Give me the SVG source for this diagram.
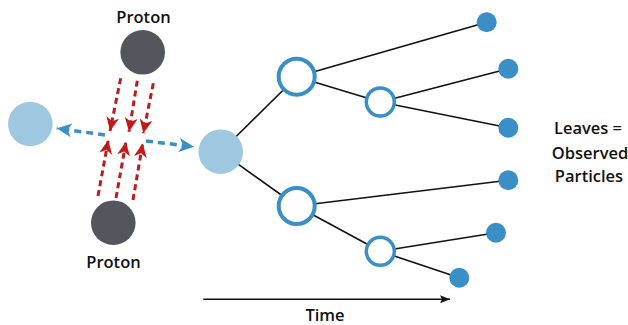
<svg xmlns="http://www.w3.org/2000/svg" width="628" height="325" viewBox="0 0 628 325">
<style>
  .lbl { font-family: "Open Sans", "Noto Sans", "Liberation Sans", sans-serif; font-weight: 600; font-size: 16.5px; fill: #111; text-anchor: middle; }
  .tree { stroke: #111; stroke-width: 1.6; fill: none; }
  .red { stroke: #c01a1a; stroke-width: 3; stroke-dasharray: 6 4; fill: none; }
  .blue { stroke: #3a8fc6; stroke-width: 3.5; stroke-dasharray: 7 5; fill: none; }
  .proton { fill: #53565d; }
  .light { fill: #9ec8e0; }
  .inner { fill: #fff; stroke: #3a8fc6; }
  .leaf { fill: #3a8fc6; }
</style>
<defs>
  <marker id="ahRed" markerUnits="userSpaceOnUse" markerWidth="14" markerHeight="13" viewBox="0 0 14 13" refX="14" refY="6.5" orient="auto">
    <path d="M0,0 L14,6.5 L0,13 L4,6.5 z" fill="#c01a1a"/>
  </marker>
  <marker id="ahBlue" markerUnits="userSpaceOnUse" markerWidth="15" markerHeight="14" viewBox="0 0 15 14" refX="15" refY="7" orient="auto">
    <path d="M0,0 L15,7 L0,14 L4,7 z" fill="#3a8fc6"/>
  </marker>
  <marker id="ahBlack" markerUnits="userSpaceOnUse" markerWidth="10" markerHeight="8" viewBox="0 0 10 8" refX="10" refY="4" orient="auto">
    <path d="M0,0 L10,4 L0,8 L2,4 z" fill="#111"/>
  </marker>
</defs>

<g id="connectors">
  <line class="tree" x1="220.7" y1="151.7" x2="296.7" y2="76.7"/>
  <line class="tree" x1="220.7" y1="151.7" x2="296.7" y2="206"/>
  <line class="tree" x1="296.7" y1="76.7" x2="486.7" y2="22.3"/>
  <line class="tree" x1="296.7" y1="76.7" x2="380.3" y2="102"/>
  <line class="tree" x1="380.3" y1="102" x2="508.3" y2="68.7"/>
  <line class="tree" x1="380.3" y1="102" x2="508.3" y2="127.7"/>
  <line class="tree" x1="296.7" y1="206" x2="508.3" y2="180.3"/>
  <line class="tree" x1="296.7" y1="206" x2="380.3" y2="251.3"/>
  <line class="tree" x1="380.3" y1="251.3" x2="496" y2="232.7"/>
  <line class="tree" x1="380.3" y1="251.3" x2="459.3" y2="277.7"/>

  <line class="red" x1="120.7" y1="78.3" x2="110" y2="131" marker-end="url(#ahRed)"/>
  <line class="red" x1="137.3" y1="80.7" x2="129" y2="131.7" marker-end="url(#ahRed)"/>
  <line class="red" x1="153.3" y1="83.3" x2="143.3" y2="133.3" marker-end="url(#ahRed)"/>
  <line class="red" x1="98" y1="196" x2="108.3" y2="140" marker-end="url(#ahRed)"/>
  <line class="red" x1="116" y1="198" x2="126" y2="141.7" marker-end="url(#ahRed)"/>
  <line class="red" x1="133" y1="200" x2="142.7" y2="143.3" marker-end="url(#ahRed)"/>

  <line class="blue" x1="105" y1="135" x2="56.7" y2="128.3" marker-end="url(#ahBlue)"/>
  <line class="blue" x1="146" y1="141" x2="194" y2="146.7" marker-end="url(#ahBlue)"/>

  <line x1="203.3" y1="299.3" x2="450" y2="299.3" stroke="#111" stroke-width="1.6" marker-end="url(#ahBlack)"/>
</g>

<g id="proton-top"><circle class="proton" cx="142.7" cy="52.3" r="22.3"/><text class="lbl" x="143.5" y="23.3">Proton</text></g>
<g id="proton-bottom"><circle class="proton" cx="113.3" cy="222.7" r="22.3"/><text class="lbl" x="113.5" y="268.3">Proton</text></g>
<g id="out-left"><circle class="light" cx="30.3" cy="124" r="22.3"/></g>
<g id="root"><circle class="light" cx="220.7" cy="151.7" r="22.3"/></g>
<g id="n-upper"><circle class="inner" stroke-width="4" cx="296.7" cy="76.7" r="18"/></g>
<g id="n-lower"><circle class="inner" stroke-width="4" cx="296.7" cy="206" r="18"/></g>
<g id="n-upper-small"><circle class="inner" stroke-width="3.5" cx="380.3" cy="102" r="14"/></g>
<g id="n-lower-small"><circle class="inner" stroke-width="3.5" cx="380.3" cy="251.3" r="14"/></g>
<g id="leaf1"><circle class="leaf" cx="486.7" cy="22.3" r="10"/></g>
<g id="leaf2"><circle class="leaf" cx="508.3" cy="68.7" r="10"/></g>
<g id="leaf3"><circle class="leaf" cx="508.3" cy="127.7" r="10"/></g>
<g id="leaf4"><circle class="leaf" cx="508.3" cy="180.3" r="10"/></g>
<g id="leaf5"><circle class="leaf" cx="496" cy="232.7" r="10"/></g>
<g id="leaf6"><circle class="leaf" cx="459.3" cy="277.7" r="10"/></g>

<g id="leaves-label">
  <text class="lbl" x="588" y="134">Leaves =</text>
  <text class="lbl" x="590" y="158.5">Observed</text>
  <text class="lbl" x="589" y="182">Particles</text>
</g>
<g id="time-label"><text class="lbl" x="325" y="320.5">Time</text></g>
</svg>
